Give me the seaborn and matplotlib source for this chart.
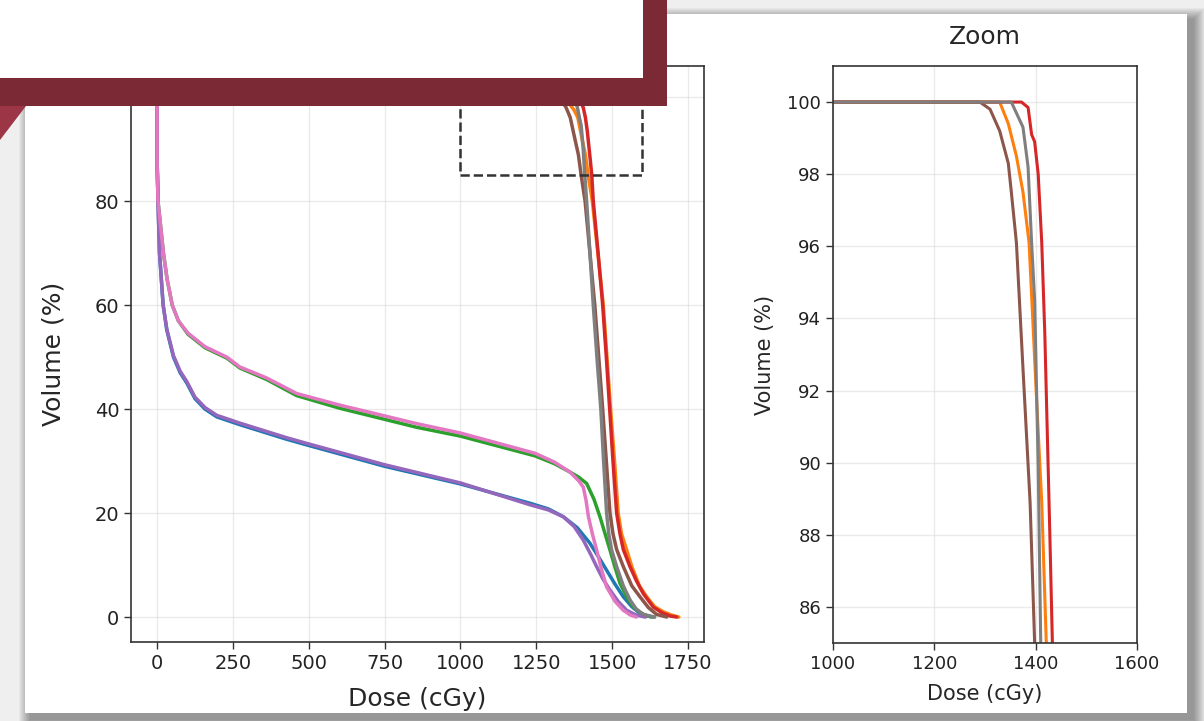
import numpy as np
import pandas as pd
import matplotlib.pyplot as plt
import seaborn as sns
from matplotlib.patches import Rectangle, Polygon

sns.set_style("ticks")
plt.rcParams['font.family'] = ['DejaVu Sans']

# DVH curves (dose in cGy, volume in %)
blue_dose = [0, 0, 3, 8, 20, 32, 54, 76, 98, 125, 158, 197, 273, 350, 427, 500, 750, 1000,
             1229, 1290, 1339, 1385, 1427, 1455, 1482, 1510, 1537, 1565, 1592, 1630]
blue_vol = [100, 88, 80, 70, 60, 55.2, 50, 47, 45, 42, 40, 38.5, 37, 35.6, 34.2, 33, 29, 25.6,
            21.9, 20.8, 19.3, 17.2, 14.2, 11.6, 9, 6.3, 3.9, 2, 0.7, 0]

orange_dose = [0, 1329, 1346, 1362, 1375, 1387, 1402, 1412, 1421, 1435, 1453, 1471, 1483, 1495,
               1508, 1520, 1531, 1548, 1565, 1590, 1614, 1640, 1669, 1695, 1720]
orange_vol = [100, 100, 99.4, 98.5, 97.5, 96.1, 91.7, 88.9, 85, 80, 70, 60, 50, 40,
              30, 20, 16, 12.9, 9.7, 6, 3.9, 2, 1, 0.4, 0]

green_dose = [0, 0, 3, 21, 33, 50, 70, 102, 158, 230, 273, 361, 460, 600, 856, 1000, 1246, 1310,
              1361, 1390, 1416, 1440, 1460, 1478, 1493, 1510, 1526, 1548, 1570, 1592, 1614, 1640]
green_vol = [100, 88, 80, 70, 65, 60, 57, 54.4, 51.8, 49.8, 47.9, 45.7, 42.6, 40.2, 36.5, 34.8, 31, 29.5,
             27.9, 26.9, 25.7, 22.7, 19.3, 15.8, 12.9, 9.5, 6.5, 3.9, 2, 0.9, 0.2, 0]

red_dose = [0, 1372, 1385, 1392, 1398, 1405, 1412, 1418, 1428, 1433, 1438, 1454, 1469, 1481,
            1492, 1503, 1515, 1526, 1537, 1559, 1580, 1603, 1636, 1665, 1691, 1713]
red_vol = [100, 100, 99.85, 99.1, 98.9, 98, 96.1, 93.6, 88, 85, 80, 70, 60, 50,
           40, 30, 20, 16, 13, 9.7, 7, 4.5, 1.9, 0.8, 0.2, 0]

purple_dose = [0, 0, 3, 8, 20, 32, 54, 76, 98, 125, 158, 197, 273, 350, 427, 500, 750, 1000,
               1229, 1290, 1339, 1375, 1405, 1430, 1449, 1470, 1493, 1520, 1548, 1575, 1592, 1610]
purple_vol = [100, 88, 80, 70, 60, 55.4, 50.3, 47.3, 45.3, 42.3, 40.3, 38.8, 37.3, 35.9, 34.5, 33.3, 29.3, 25.8,
              21.6, 20.6, 19.3, 17.4, 14.8, 12, 9.7, 7.3, 5.2, 3, 1.3, 0.5, 0.2, 0]

brown_dose = [0, 1290, 1310, 1329, 1346, 1352, 1362, 1375, 1389, 1398, 1411, 1427, 1443, 1456,
              1469, 1481, 1493, 1503, 1515, 1537, 1565, 1592, 1620, 1647, 1680]
brown_vol = [100, 100, 99.8, 99.2, 98.3, 97.5, 96.1, 92.6, 88.9, 85, 80, 70, 60, 50,
             40, 30, 20, 16, 13, 9.7, 6, 3.9, 1.8, 0.5, 0]

pink_dose = [0, 0, 3, 21, 33, 50, 70, 102, 158, 230, 273, 361, 460, 600, 856, 1000, 1246, 1310,
             1361, 1390, 1405, 1414, 1422, 1435, 1449, 1465, 1482, 1510, 1537, 1560, 1580]
pink_vol = [100, 88, 80, 70, 65, 60, 57, 54.6, 52, 50, 48.1, 46, 43, 40.8, 37.2, 35.4, 31.5, 29.8,
            27.9, 26.2, 25, 22.5, 19.3, 16, 12.9, 9.2, 5.8, 3, 1.3, 0.4, 0]

gray_dose = [0, 1352, 1375, 1385, 1392, 1398, 1405, 1410, 1416, 1427, 1438, 1450, 1463, 1472,
             1482, 1489, 1498, 1515, 1537, 1559, 1580, 1603, 1640]
gray_vol = [100, 100, 99.3, 98.2, 96.1, 94.5, 89.9, 85, 80, 70, 60, 50, 40, 30,
            20, 16, 13, 9.7, 6, 3.3, 1.5, 0.5, 0]

curve_names = ["blue", "orange", "green", "red", "purple", "brown", "pink", "gray"]
curve_data = {
    "blue": (blue_dose, blue_vol), "orange": (orange_dose, orange_vol),
    "green": (green_dose, green_vol), "red": (red_dose, red_vol),
    "purple": (purple_dose, purple_vol), "brown": (brown_dose, brown_vol),
    "pink": (pink_dose, pink_vol), "gray": (gray_dose, gray_vol),
}
palette = dict(zip(curve_names, sns.color_palette("tab10", 8)))

frames = []
for name in curve_names:
    d, v = curve_data[name]
    frames.append(pd.DataFrame({"dose": d, "volume": v, "curve": name}))
df = pd.concat(frames, ignore_index=True)

W, H = 1204, 721
fig = plt.figure(figsize=(W / 100, H / 100), dpi=100)
fig.patch.set_facecolor("#efefef")

# background: white sheet with soft shadow
bg = fig.add_axes([0, 0, 1, 1], zorder=0)
bg.set_xlim(0, W)
bg.set_ylim(H, 0)
bg.axis("off")
for k in range(1, 13):
    bg.add_patch(Rectangle((31 - k, 20 - k), 1162 + 2 * k, 699 + 2 * k,
                           color="black", alpha=0.035, lw=0))
bg.add_patch(Rectangle((25, 14), 1162, 699, color="white", lw=0))


def style_axes(ax, tick_size):
    ax.set_facecolor("white")
    ax.grid(True, color="#cccccc", alpha=0.4, linewidth=1)
    for s in ax.spines.values():
        s.set_color("#333333")
        s.set_linewidth(1.2)
    ax.tick_params(direction="out", length=5, width=1, color="#333333",
                   labelsize=tick_size, labelcolor="#222222")


# main DVH panel
ax1 = fig.add_axes([131 / W, 1 - 642 / H, 573 / W, 576 / H], zorder=2)
style_axes(ax1, 14)
sns.lineplot(data=df, x="dose", y="volume", hue="curve", hue_order=curve_names,
             palette=palette, sort=False, estimator=None, legend=False,
             linewidth=2.5, ax=ax1)
ax1.add_patch(Rectangle((1000, 85), 600, 16, fill=False, ls="--", lw=1.8,
                        ec="#333333", zorder=5))
ax1.set_xlim(-86, 1803)
ax1.set_ylim(-4.8, 106)
ax1.set_xticks(np.arange(0, 1751, 250))
ax1.set_yticks(np.arange(0, 101, 20))
ax1.set_xlabel("Dose (cGy)", fontsize=18, labelpad=10)
ax1.set_ylabel("Volume (%)", fontsize=18, labelpad=12)

# zoom panel
ax2 = fig.add_axes([833 / W, 1 - 643 / H, 304 / W, 577 / H], zorder=2)
style_axes(ax2, 13)
sns.lineplot(data=df, x="dose", y="volume", hue="curve", hue_order=curve_names,
             palette=palette, sort=False, estimator=None, legend=False,
             linewidth=2.2, ax=ax2)
ax2.set_xlim(1000, 1600)
ax2.set_ylim(85, 101)
ax2.set_xticks(np.arange(1000, 1601, 200))
ax2.set_yticks(np.arange(86, 101, 2))
ax2.set_xlabel("Dose (cGy)", fontsize=15, labelpad=8)
ax2.set_ylabel("Volume (%)", fontsize=15, labelpad=9)
ax2.set_title("Zoom", fontsize=18, pad=16)

# banner overlapping the top-left corner
fg = fig.add_axes([0, 0, 1, 1], zorder=5)
fg.set_xlim(0, W)
fg.set_ylim(H, 0)
fg.axis("off")
fg.patch.set_alpha(0)
fg.add_patch(Rectangle((0, 0), 667, 106, color="#7b2a35", lw=0))
fg.add_patch(Rectangle((0, 0), 643, 78, color="white", lw=0))
fg.add_patch(Polygon([(0, 106), (26, 106), (0, 140)], closed=True,
                     color="#9c3545", lw=0))

fig.savefig("out.png", dpi=100)
plt.close(fig)
